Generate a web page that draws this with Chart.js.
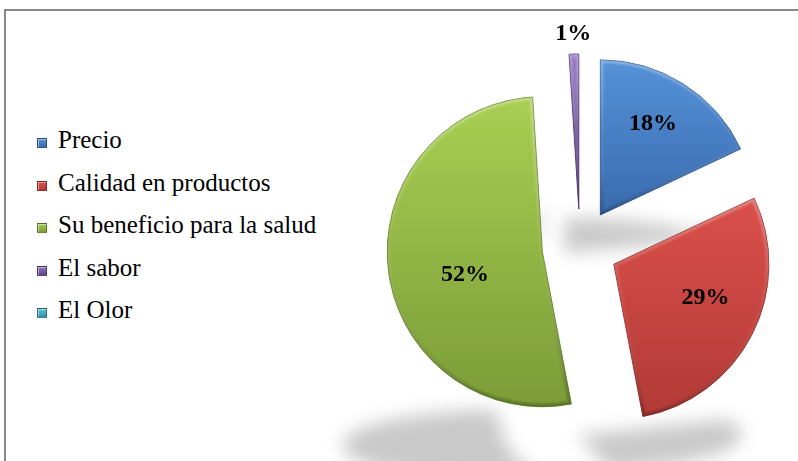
<!DOCTYPE html>
<html>
<head>
<meta charset="utf-8">
<script src="https://cdn.jsdelivr.net/npm/chart.js@4/dist/chart.umd.min.js"></script>
<style>
  html, body { margin: 0; padding: 0; background: #fff; width: 798px; height: 461px; overflow: hidden; }
  #frame { position: absolute; left: 4px; top: 9px; width: 830px; height: 480px;
           border-left: 2px solid #878787; border-top: 2px solid #878787; }
  #legend { position: absolute; left: 37px; top: 119px; font-family: "Liberation Serif", "Times New Roman", serif;
            font-size: 25px; line-height: 42.6px; color: #000; }
  #legend .item { white-space: nowrap; }
  #legend .sw { display: inline-block; width: 10px; height: 10px; box-sizing: border-box; margin-right: 11px;
                border: 1px solid rgba(0,0,0,0.35); box-shadow: inset 1px 1px 0 rgba(255,255,255,0.45); }
  #wrap { position: absolute; left: 300px; top: 0; width: 498px; height: 461px; }
</style>
</head>
<body>
<div id="frame"></div>
<div id="legend"></div>
<div id="wrap"><canvas id="c" width="498" height="461"></canvas></div>
<script>
// Survey answers: share of respondents per reason (%)
const categories = ['Precio', 'Calidad en productos', 'Su beneficio para la salud', 'El sabor', 'El Olor'];
const percentages = [18, 29, 52, 1, 0];

// Slice styling
const FILL_TOP    = ['#5592d8', '#da504b', '#a8cf52', '#9274c2', '#5cc0da'];
const FILL_MID    = ['#4a80c6', '#c8473f', '#94b947', '#7a5ca6', '#4bacc6'];
const FILL_BOTTOM = ['#3a6aae', '#b23a36', '#7b9c38', '#5e4585', '#3490aa'];
const EDGE        = ['#335f9c', '#9a302c', '#6a8a30', '#523a78', '#2e7f96'];
const EXPLODE = 38;                                  // distance each slice is pulled out
const LABEL_RADIUS = [0.68, 0.63, 0.52, 1.13, 1.13]; // label distance as a fraction of the radius
const LABEL_TURN = [-2.4, -6.7, -9.2, 0, 0];         // label angle relative to the slice bisector (deg)

// HTML legend built from the categories
const legendEl = document.getElementById('legend');
categories.forEach((name, i) => {
  const row = document.createElement('div');
  row.className = 'item';
  const sw = document.createElement('span');
  sw.className = 'sw';
  sw.style.background = `linear-gradient(to bottom, ${FILL_TOP[i]}, ${FILL_BOTTOM[i]})`;
  row.appendChild(sw);
  row.appendChild(document.createTextNode(name));
  legendEl.appendChild(row);
});

function sectorPath(ctx, arc) {
  ctx.beginPath();
  ctx.moveTo(arc.x, arc.y);
  ctx.arc(arc.x, arc.y, arc.outerRadius, arc.startAngle, arc.endAngle);
  ctx.closePath();
}

function arcExtents(arc) {
  let top = arc.y, bottom = arc.y;
  const n = 72;
  for (let k = 0; k <= n; k++) {
    const a = arc.startAngle + (arc.endAngle - arc.startAngle) * k / n;
    const py = arc.y + Math.sin(a) * arc.outerRadius;
    top = Math.min(top, py);
    bottom = Math.max(bottom, py);
  }
  return { top, bottom };
}

// Pull every slice out along its bisector
const explodePlugin = {
  id: 'explodeSlices',
  afterDatasetUpdate(chart, args) {
    args.meta.data.forEach(arc => {
      const mid = (arc.startAngle + arc.endAngle) / 2;
      arc.x += Math.cos(mid) * EXPLODE;
      arc.y += Math.sin(mid) * EXPLODE;
    });
  }
};

// Floor shadows, gradient fills, bevel rims and value labels
const shadingPlugin = {
  id: 'sliceShading',
  beforeDatasetsDraw(chart) {
    const ctx = chart.ctx;
    const arcs = chart.getDatasetMeta(0).data;
    arcs.forEach((arc, i) => {
      if (!(arc.circumference > 0)) return;
      const e = arcExtents(arc);
      const k = 0.23;
      ctx.save();
      ctx.filter = 'blur(9px)';
      ctx.fillStyle = 'rgba(0,0,0,0.21)';
      ctx.translate(-36 - 0.06 * arc.x, e.bottom + 3 - k * e.top);
      ctx.scale(1.06, k);
      sectorPath(ctx, arc);
      ctx.fill();
      ctx.restore();

      const g = ctx.createLinearGradient(0, e.top, 0, e.bottom);
      g.addColorStop(0, FILL_TOP[i]);
      g.addColorStop(1, FILL_BOTTOM[i]);
      arc.options.backgroundColor = g;
    });
  },
  afterDatasetsDraw(chart) {
    const ctx = chart.ctx;
    const arcs = chart.getDatasetMeta(0).data;
    arcs.forEach((arc) => {
      if (!(arc.circumference > 0)) return;
      const e = arcExtents(arc);
      ctx.save();
      sectorPath(ctx, arc);
      ctx.clip();
      const g = ctx.createLinearGradient(0, e.top, 0, e.bottom);
      g.addColorStop(0, 'rgba(255,255,255,0.30)');
      g.addColorStop(0.5, 'rgba(255,255,255,0.05)');
      g.addColorStop(1, 'rgba(0,0,0,0.25)');
      ctx.filter = 'blur(1.2px)';
      ctx.lineWidth = 6;
      ctx.lineJoin = 'round';
      ctx.strokeStyle = g;
      sectorPath(ctx, arc);
      ctx.stroke();
      ctx.restore();
    });

    ctx.save();
    ctx.font = 'bold 24px "Liberation Serif", "Times New Roman", serif';
    ctx.fillStyle = '#000';
    ctx.textAlign = 'center';
    ctx.textBaseline = 'middle';
    arcs.forEach((arc, i) => {
      if (!(percentages[i] > 0)) return;
      const mid = (arc.startAngle + arc.endAngle) / 2 + LABEL_TURN[i] * Math.PI / 180;
      const r = arc.outerRadius * LABEL_RADIUS[i];
      ctx.fillText(percentages[i] + '%', arc.x + Math.cos(mid) * r, arc.y + Math.sin(mid) * r);
    });
    ctx.restore();
  }
};

new Chart(document.getElementById('c'), {
  type: 'pie',
  data: {
    labels: categories,
    datasets: [{
      data: percentages,
      backgroundColor: FILL_MID,
      borderColor: EDGE,
      borderWidth: 1,
      radius: 155,
      clip: false
    }]
  },
  options: {
    responsive: false,
    animation: false,
    events: [],
    radius: 155,
    layout: { padding: { left: 62, right: 0, top: 33, bottom: 0 } },
    plugins: { legend: { display: false }, tooltip: { enabled: false } }
  },
  plugins: [explodePlugin, shadingPlugin]
});
</script>
</body>
</html>
